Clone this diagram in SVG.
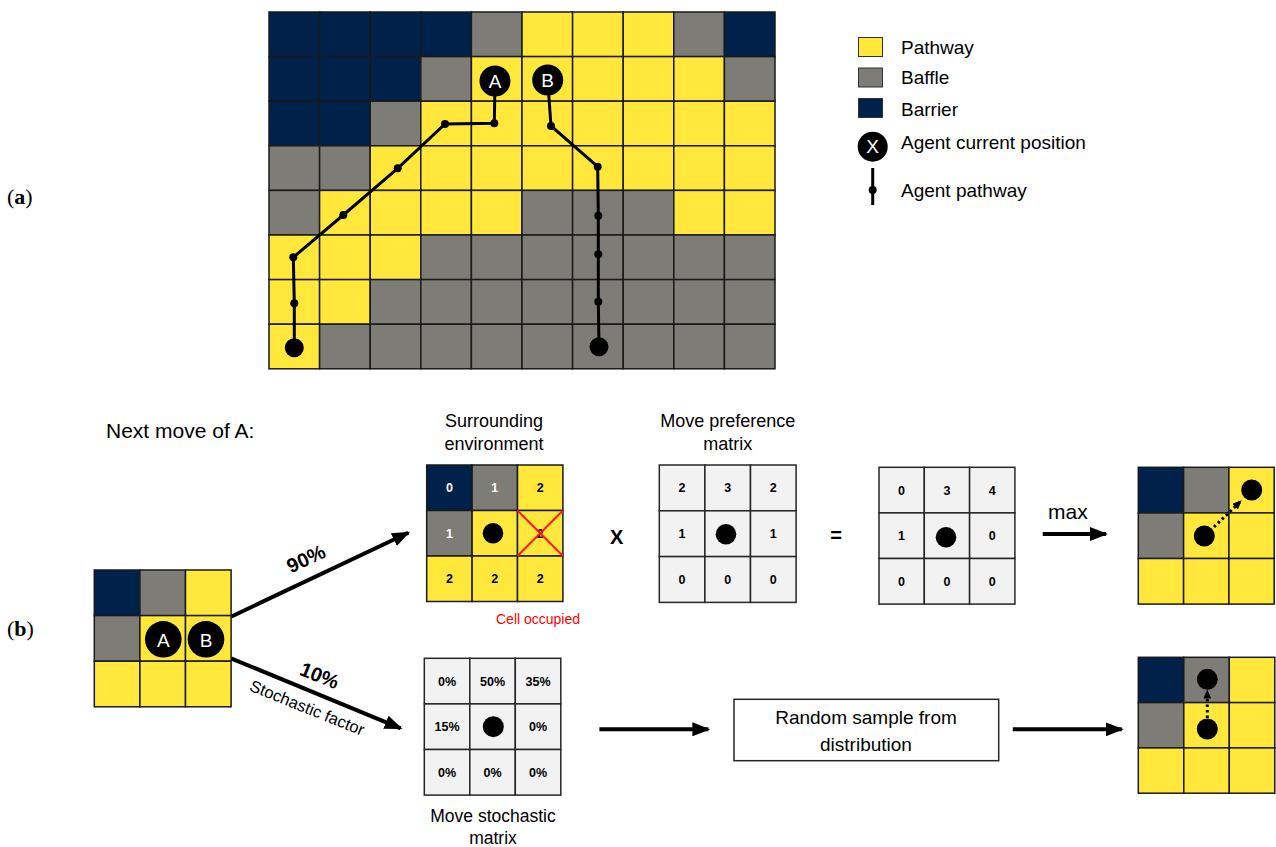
<svg xmlns="http://www.w3.org/2000/svg" width="1276" height="847" viewBox="0 0 1276 847">
<style>
.n{fill:#00214a;stroke:#1a1a1a;stroke-width:1.5}
.g{fill:#7e7c76;stroke:#1a1a1a;stroke-width:1.5}
.y{fill:#ffe83b;stroke:#1a1a1a;stroke-width:1.5}
.l{fill:#f2f2f2;stroke:#262626;stroke-width:1.5}
.t{font-family:"Liberation Sans",Arial,sans-serif;fill:#000}
.c{text-anchor:middle}
.num{font-family:"Liberation Sans",Arial,sans-serif;font-weight:bold;font-size:12.5px;text-anchor:middle;fill:#000}
.w{fill:#fff}
.ag{fill:#000}
.agt{font-family:"Liberation Sans",Arial,sans-serif;font-size:19px;fill:#fff;text-anchor:middle}
.path{fill:none;stroke:#000;stroke-width:3}
.arr{stroke:#000;stroke-width:4;fill:none}
.dot{stroke:#000;stroke-width:3;stroke-dasharray:2.5 3;fill:none}
</style>
<defs>
<marker id="ah" markerUnits="userSpaceOnUse" markerWidth="18" markerHeight="14" refX="16" refY="7" orient="auto">
<path d="M0,0 L18,7 L0,14 z" fill="#000"/>
</marker>
<marker id="sh" markerUnits="userSpaceOnUse" markerWidth="9" markerHeight="8" refX="8" refY="4" orient="auto">
<path d="M0,0 L9,4 L0,8 z" fill="#000"/>
</marker>
</defs>
<rect width="1276" height="847" fill="#fff"/>

<g id="label-a"><text x="7" y="204" font-family="Liberation Serif,Times New Roman,serif" font-size="22">(<tspan font-weight="bold">a</tspan>)</text></g>
<g id="label-b"><text x="7" y="636" font-family="Liberation Serif,Times New Roman,serif" font-size="22">(<tspan font-weight="bold">b</tspan>)</text></g>

<g id="main-grid">
<rect class="n" x="269" y="12" width="50.6" height="44.6"/><rect class="n" x="319.6" y="12" width="50.6" height="44.6"/><rect class="n" x="370.2" y="12" width="50.6" height="44.6"/><rect class="n" x="420.8" y="12" width="50.6" height="44.6"/><rect class="g" x="471.4" y="12" width="50.6" height="44.6"/><rect class="y" x="522" y="12" width="50.6" height="44.6"/><rect class="y" x="572.6" y="12" width="50.6" height="44.6"/><rect class="y" x="623.2" y="12" width="50.6" height="44.6"/><rect class="g" x="673.8" y="12" width="50.6" height="44.6"/><rect class="n" x="724.4" y="12" width="50.6" height="44.6"/>
<rect class="n" x="269" y="56.6" width="50.6" height="44.6"/><rect class="n" x="319.6" y="56.6" width="50.6" height="44.6"/><rect class="n" x="370.2" y="56.6" width="50.6" height="44.6"/><rect class="g" x="420.8" y="56.6" width="50.6" height="44.6"/><rect class="y" x="471.4" y="56.6" width="50.6" height="44.6"/><rect class="y" x="522" y="56.6" width="50.6" height="44.6"/><rect class="y" x="572.6" y="56.6" width="50.6" height="44.6"/><rect class="y" x="623.2" y="56.6" width="50.6" height="44.6"/><rect class="y" x="673.8" y="56.6" width="50.6" height="44.6"/><rect class="g" x="724.4" y="56.6" width="50.6" height="44.6"/>
<rect class="n" x="269" y="101.2" width="50.6" height="44.6"/><rect class="n" x="319.6" y="101.2" width="50.6" height="44.6"/><rect class="g" x="370.2" y="101.2" width="50.6" height="44.6"/><rect class="y" x="420.8" y="101.2" width="50.6" height="44.6"/><rect class="y" x="471.4" y="101.2" width="50.6" height="44.6"/><rect class="y" x="522" y="101.2" width="50.6" height="44.6"/><rect class="y" x="572.6" y="101.2" width="50.6" height="44.6"/><rect class="y" x="623.2" y="101.2" width="50.6" height="44.6"/><rect class="y" x="673.8" y="101.2" width="50.6" height="44.6"/><rect class="y" x="724.4" y="101.2" width="50.6" height="44.6"/>
<rect class="g" x="269" y="145.8" width="50.6" height="44.6"/><rect class="g" x="319.6" y="145.8" width="50.6" height="44.6"/><rect class="y" x="370.2" y="145.8" width="50.6" height="44.6"/><rect class="y" x="420.8" y="145.8" width="50.6" height="44.6"/><rect class="y" x="471.4" y="145.8" width="50.6" height="44.6"/><rect class="y" x="522" y="145.8" width="50.6" height="44.6"/><rect class="y" x="572.6" y="145.8" width="50.6" height="44.6"/><rect class="y" x="623.2" y="145.8" width="50.6" height="44.6"/><rect class="y" x="673.8" y="145.8" width="50.6" height="44.6"/><rect class="y" x="724.4" y="145.8" width="50.6" height="44.6"/>
<rect class="g" x="269" y="190.4" width="50.6" height="44.6"/><rect class="y" x="319.6" y="190.4" width="50.6" height="44.6"/><rect class="y" x="370.2" y="190.4" width="50.6" height="44.6"/><rect class="y" x="420.8" y="190.4" width="50.6" height="44.6"/><rect class="y" x="471.4" y="190.4" width="50.6" height="44.6"/><rect class="g" x="522" y="190.4" width="50.6" height="44.6"/><rect class="g" x="572.6" y="190.4" width="50.6" height="44.6"/><rect class="g" x="623.2" y="190.4" width="50.6" height="44.6"/><rect class="y" x="673.8" y="190.4" width="50.6" height="44.6"/><rect class="y" x="724.4" y="190.4" width="50.6" height="44.6"/>
<rect class="y" x="269" y="235" width="50.6" height="44.6"/><rect class="y" x="319.6" y="235" width="50.6" height="44.6"/><rect class="y" x="370.2" y="235" width="50.6" height="44.6"/><rect class="g" x="420.8" y="235" width="50.6" height="44.6"/><rect class="g" x="471.4" y="235" width="50.6" height="44.6"/><rect class="g" x="522" y="235" width="50.6" height="44.6"/><rect class="g" x="572.6" y="235" width="50.6" height="44.6"/><rect class="g" x="623.2" y="235" width="50.6" height="44.6"/><rect class="g" x="673.8" y="235" width="50.6" height="44.6"/><rect class="g" x="724.4" y="235" width="50.6" height="44.6"/>
<rect class="y" x="269" y="279.6" width="50.6" height="44.6"/><rect class="y" x="319.6" y="279.6" width="50.6" height="44.6"/><rect class="g" x="370.2" y="279.6" width="50.6" height="44.6"/><rect class="g" x="420.8" y="279.6" width="50.6" height="44.6"/><rect class="g" x="471.4" y="279.6" width="50.6" height="44.6"/><rect class="g" x="522" y="279.6" width="50.6" height="44.6"/><rect class="g" x="572.6" y="279.6" width="50.6" height="44.6"/><rect class="g" x="623.2" y="279.6" width="50.6" height="44.6"/><rect class="g" x="673.8" y="279.6" width="50.6" height="44.6"/><rect class="g" x="724.4" y="279.6" width="50.6" height="44.6"/>
<rect class="y" x="269" y="324.2" width="50.6" height="44.6"/><rect class="g" x="319.6" y="324.2" width="50.6" height="44.6"/><rect class="g" x="370.2" y="324.2" width="50.6" height="44.6"/><rect class="g" x="420.8" y="324.2" width="50.6" height="44.6"/><rect class="g" x="471.4" y="324.2" width="50.6" height="44.6"/><rect class="g" x="522" y="324.2" width="50.6" height="44.6"/><rect class="g" x="572.6" y="324.2" width="50.6" height="44.6"/><rect class="g" x="623.2" y="324.2" width="50.6" height="44.6"/><rect class="g" x="673.8" y="324.2" width="50.6" height="44.6"/><rect class="g" x="724.4" y="324.2" width="50.6" height="44.6"/>
</g>

<g id="connectors">
<polyline class="path" points="495,81 494.3,123.3 445,124 397.7,168.3 343.3,215 293.3,257.3 294.3,303.3 294.3,347.7"/>
<polyline class="path" points="547.7,80 551,126 597.7,166.7 598.3,215.7 598.3,254.3 598.3,301.7 599,346.7"/>
<g fill="#000">
<circle cx="494.3" cy="123.3" r="4"/><circle cx="445" cy="124" r="4"/><circle cx="397.7" cy="168.3" r="4"/><circle cx="343.3" cy="215" r="4"/><circle cx="293.3" cy="257.3" r="4"/><circle cx="294.3" cy="303.3" r="4"/><circle cx="294.3" cy="347.7" r="9.5"/>
<circle cx="551" cy="126" r="4"/><circle cx="597.7" cy="166.7" r="4"/><circle cx="598.3" cy="215.7" r="4"/><circle cx="598.3" cy="254.3" r="4"/><circle cx="598.3" cy="301.7" r="4"/><circle cx="599" cy="346.7" r="9.5"/>
</g>
<line class="arr" x1="231" y1="616.7" x2="408.3" y2="532.7" marker-end="url(#ah)"/>
<line class="arr" x1="231" y1="658.3" x2="400.7" y2="728.3" marker-end="url(#ah)"/>
<line class="arr" x1="1042.7" y1="534" x2="1106" y2="534" marker-end="url(#ah)"/>
<line class="arr" x1="599.4" y1="729.3" x2="708.4" y2="729.3" marker-end="url(#ah)"/>
<line class="arr" x1="1012.8" y1="729.3" x2="1121.8" y2="729.3" marker-end="url(#ah)"/>
<text class="t c" font-size="20" font-weight="bold" transform="translate(309,565) rotate(-25)">90%</text>
<text class="t c" font-size="20" font-weight="bold" transform="translate(317,682) rotate(22)">10%</text>
<text class="t c" font-size="16.5" transform="translate(305,713) rotate(22)">Stochastic factor</text>
</g>

<g id="agent-A"><circle class="ag" cx="495" cy="81" r="15.5"/><text class="agt" x="495" y="88">A</text></g>
<g id="agent-B"><circle class="ag" cx="547.7" cy="80" r="15.5"/><text class="agt" x="547.7" y="87">B</text></g>

<g id="legend">
<rect class="y" x="858.5" y="37.5" width="24" height="19" style="stroke:#333;stroke-width:1"/>
<rect class="g" x="858.5" y="68" width="24" height="19" style="stroke:#333;stroke-width:1"/>
<rect class="n" x="858.5" y="98.5" width="24" height="19" style="stroke:#333;stroke-width:1"/>
<circle cx="872.7" cy="146.7" r="15" fill="#000"/>
<text class="agt" x="872.7" y="153.3" font-size="18">X</text>
<line x1="872.7" y1="168" x2="872.7" y2="205" stroke="#000" stroke-width="3"/>
<circle cx="872.7" cy="190" r="4" fill="#000"/>
<text class="t" x="901" y="53.5" font-size="19">Pathway</text>
<text class="t" x="901" y="84" font-size="19">Baffle</text>
<text class="t" x="901" y="115.5" font-size="19">Barrier</text>
<text class="t" x="901" y="148.5" font-size="19">Agent current position</text>
<text class="t" x="901" y="196.5" font-size="19">Agent pathway</text>
</g>

<g id="next-move-title"><text class="t" x="106" y="438" font-size="21">Next move of A:</text></g>

<g id="start-grid">
<rect class="n" x="94.3" y="570" width="45.6" height="45.6"/><rect class="g" x="139.9" y="570" width="45.6" height="45.6"/><rect class="y" x="185.5" y="570" width="45.6" height="45.6"/>
<rect class="g" x="94.3" y="615.6" width="45.6" height="45.6"/><rect class="y" x="139.9" y="615.6" width="45.6" height="45.6"/><rect class="y" x="185.5" y="615.6" width="45.6" height="45.6"/>
<rect class="y" x="94.3" y="661.2" width="45.6" height="45.6"/><rect class="y" x="139.9" y="661.2" width="45.6" height="45.6"/><rect class="y" x="185.5" y="661.2" width="45.6" height="45.6"/>
<circle class="ag" cx="163.3" cy="639.3" r="18.3"/><text class="agt" x="163.3" y="646.5" font-size="20">A</text>
<circle class="ag" cx="206" cy="639.3" r="18.3"/><text class="agt" x="206" y="646.5" font-size="20">B</text>
</g>

<g id="surrounding-env">
<text class="t c" x="494" y="427" font-size="18">Surrounding</text>
<text class="t c" x="494" y="450" font-size="18">environment</text>
<rect class="n" x="426.7" y="465" width="45.4" height="45.5"/><rect class="g" x="472.1" y="465" width="45.4" height="45.5"/><rect class="y" x="517.5" y="465" width="45.4" height="45.5"/>
<rect class="g" x="426.7" y="510.5" width="45.4" height="45.5"/><rect class="y" x="472.1" y="510.5" width="45.4" height="45.5"/><rect class="y" x="517.5" y="510.5" width="45.4" height="45.5"/>
<rect class="y" x="426.7" y="556" width="45.4" height="45.5"/><rect class="y" x="472.1" y="556" width="45.4" height="45.5"/><rect class="y" x="517.5" y="556" width="45.4" height="45.5"/>
<text class="num w" x="449.4" y="492">0</text><text class="num w" x="494.8" y="492">1</text><text class="num" x="540.2" y="492">2</text>
<text class="num w" x="449.4" y="537.5">1</text><circle cx="493" cy="533.3" r="10.3" fill="#000"/><text class="num" x="540.2" y="537.5">2</text>
<text class="num" x="449.4" y="583">2</text><text class="num" x="494.8" y="583">2</text><text class="num" x="540.2" y="583">2</text>
<line x1="517.5" y1="510.5" x2="562.9" y2="556" stroke="#ff1a1a" stroke-width="2"/>
<line x1="562.9" y1="510.5" x2="517.5" y2="556" stroke="#ff1a1a" stroke-width="2"/>
<text class="t" x="496" y="624" font-size="14" style="fill:#ff0000">Cell occupied</text>
</g>

<g id="times-sign"><text class="t c" x="616.7" y="543.5" font-size="20" font-weight="bold">X</text></g>

<g id="preference-matrix">
<text class="t c" x="727.7" y="427" font-size="18">Move preference</text>
<text class="t c" x="727.7" y="450" font-size="18">matrix</text>
<rect class="l" x="659.3" y="465" width="45.6" height="45.8"/><rect class="l" x="704.9" y="465" width="45.6" height="45.8"/><rect class="l" x="750.5" y="465" width="45.6" height="45.8"/>
<rect class="l" x="659.3" y="510.8" width="45.6" height="45.8"/><rect class="l" x="704.9" y="510.8" width="45.6" height="45.8"/><rect class="l" x="750.5" y="510.8" width="45.6" height="45.8"/>
<rect class="l" x="659.3" y="556.6" width="45.6" height="45.8"/><rect class="l" x="704.9" y="556.6" width="45.6" height="45.8"/><rect class="l" x="750.5" y="556.6" width="45.6" height="45.8"/>
<text class="num" x="682.1" y="492.3">2</text><text class="num" x="727.7" y="492.3">3</text><text class="num" x="773.3" y="492.3">2</text>
<text class="num" x="682.1" y="538">1</text><circle cx="726" cy="534.3" r="10.3" fill="#000"/><text class="num" x="773.3" y="538">1</text>
<text class="num" x="682.1" y="583.8">0</text><text class="num" x="727.7" y="583.8">0</text><text class="num" x="773.3" y="583.8">0</text>
</g>

<g id="equals-sign"><text class="t c" x="836" y="541.5" font-size="20" font-weight="bold">=</text></g>

<g id="result-matrix">
<rect class="l" x="879" y="467.3" width="45.3" height="45.6"/><rect class="l" x="924.3" y="467.3" width="45.3" height="45.6"/><rect class="l" x="969.6" y="467.3" width="45.3" height="45.6"/>
<rect class="l" x="879" y="512.9" width="45.3" height="45.6"/><rect class="l" x="924.3" y="512.9" width="45.3" height="45.6"/><rect class="l" x="969.6" y="512.9" width="45.3" height="45.6"/>
<rect class="l" x="879" y="558.5" width="45.3" height="45.6"/><rect class="l" x="924.3" y="558.5" width="45.3" height="45.6"/><rect class="l" x="969.6" y="558.5" width="45.3" height="45.6"/>
<text class="num" x="901.6" y="494.5">0</text><text class="num" x="947" y="494.5">3</text><text class="num" x="992.3" y="494.5">4</text>
<text class="num" x="901.6" y="540">1</text><circle cx="946" cy="537.3" r="10.3" fill="#000"/><text class="num" x="992.3" y="540">0</text>
<text class="num" x="901.6" y="585.6">0</text><text class="num" x="947" y="585.6">0</text><text class="num" x="992.3" y="585.6">0</text>
</g>

<g id="max-label"><text class="t" x="1048" y="518.5" font-size="21">max</text></g>

<g id="max-result">
<rect class="n" x="1138.3" y="467.3" width="45.3" height="45.6"/><rect class="g" x="1183.6" y="467.3" width="45.3" height="45.6"/><rect class="y" x="1228.9" y="467.3" width="45.3" height="45.6"/>
<rect class="g" x="1138.3" y="512.9" width="45.3" height="45.6"/><rect class="y" x="1183.6" y="512.9" width="45.3" height="45.6"/><rect class="y" x="1228.9" y="512.9" width="45.3" height="45.6"/>
<rect class="y" x="1138.3" y="558.5" width="45.3" height="45.6"/><rect class="y" x="1183.6" y="558.5" width="45.3" height="45.6"/><rect class="y" x="1228.9" y="558.5" width="45.3" height="45.6"/>
<circle cx="1204.3" cy="536" r="10.5" fill="#000"/>
<circle cx="1251.7" cy="490" r="10.5" fill="#000"/>
<line class="dot" x1="1214" y1="527" x2="1241" y2="501" marker-end="url(#sh)"/>
</g>

<g id="stochastic-matrix">
<rect class="l" x="424.3" y="658.3" width="45.5" height="45.6"/><rect class="l" x="469.8" y="658.3" width="45.5" height="45.6"/><rect class="l" x="515.3" y="658.3" width="45.5" height="45.6"/>
<rect class="l" x="424.3" y="703.9" width="45.5" height="45.6"/><rect class="l" x="469.8" y="703.9" width="45.5" height="45.6"/><rect class="l" x="515.3" y="703.9" width="45.5" height="45.6"/>
<rect class="l" x="424.3" y="749.5" width="45.5" height="45.6"/><rect class="l" x="469.8" y="749.5" width="45.5" height="45.6"/><rect class="l" x="515.3" y="749.5" width="45.5" height="45.6"/>
<text class="num" x="447" y="685.5" font-size="12">0%</text><text class="num" x="492.5" y="685.5" font-size="12">50%</text><text class="num" x="538" y="685.5" font-size="12">35%</text>
<text class="num" x="447" y="731" font-size="12">15%</text><circle cx="493.3" cy="726.7" r="10.5" fill="#000"/><text class="num" x="538" y="731" font-size="12">0%</text>
<text class="num" x="447" y="776.5" font-size="12">0%</text><text class="num" x="492.5" y="776.5" font-size="12">0%</text><text class="num" x="538" y="776.5" font-size="12">0%</text>
<text class="t c" x="493" y="822" font-size="17.5">Move stochastic</text>
<text class="t c" x="493" y="844" font-size="17.5">matrix</text>
</g>

<g id="random-sample">
<rect x="734" y="699.3" width="264.7" height="61.4" fill="#fff" stroke="#262626" stroke-width="1.5"/>
<text class="t c" x="866" y="724" font-size="19">Random sample from</text>
<text class="t c" x="866" y="750.5" font-size="19">distribution</text>
</g>

<g id="stochastic-result">
<rect class="n" x="1138.3" y="657.3" width="45.5" height="45.3"/><rect class="g" x="1183.8" y="657.3" width="45.5" height="45.3"/><rect class="y" x="1229.3" y="657.3" width="45.5" height="45.3"/>
<rect class="g" x="1138.3" y="702.6" width="45.5" height="45.3"/><rect class="y" x="1183.8" y="702.6" width="45.5" height="45.3"/><rect class="y" x="1229.3" y="702.6" width="45.5" height="45.3"/>
<rect class="y" x="1138.3" y="747.9" width="45.5" height="45.3"/><rect class="y" x="1183.8" y="747.9" width="45.5" height="45.3"/><rect class="y" x="1229.3" y="747.9" width="45.5" height="45.3"/>
<circle cx="1207.3" cy="679.3" r="10.5" fill="#000"/>
<circle cx="1207.3" cy="729" r="10.5" fill="#000"/>
<line class="dot" x1="1207.3" y1="718" x2="1207.3" y2="690.5" marker-end="url(#sh)"/>
</g>
</svg>
